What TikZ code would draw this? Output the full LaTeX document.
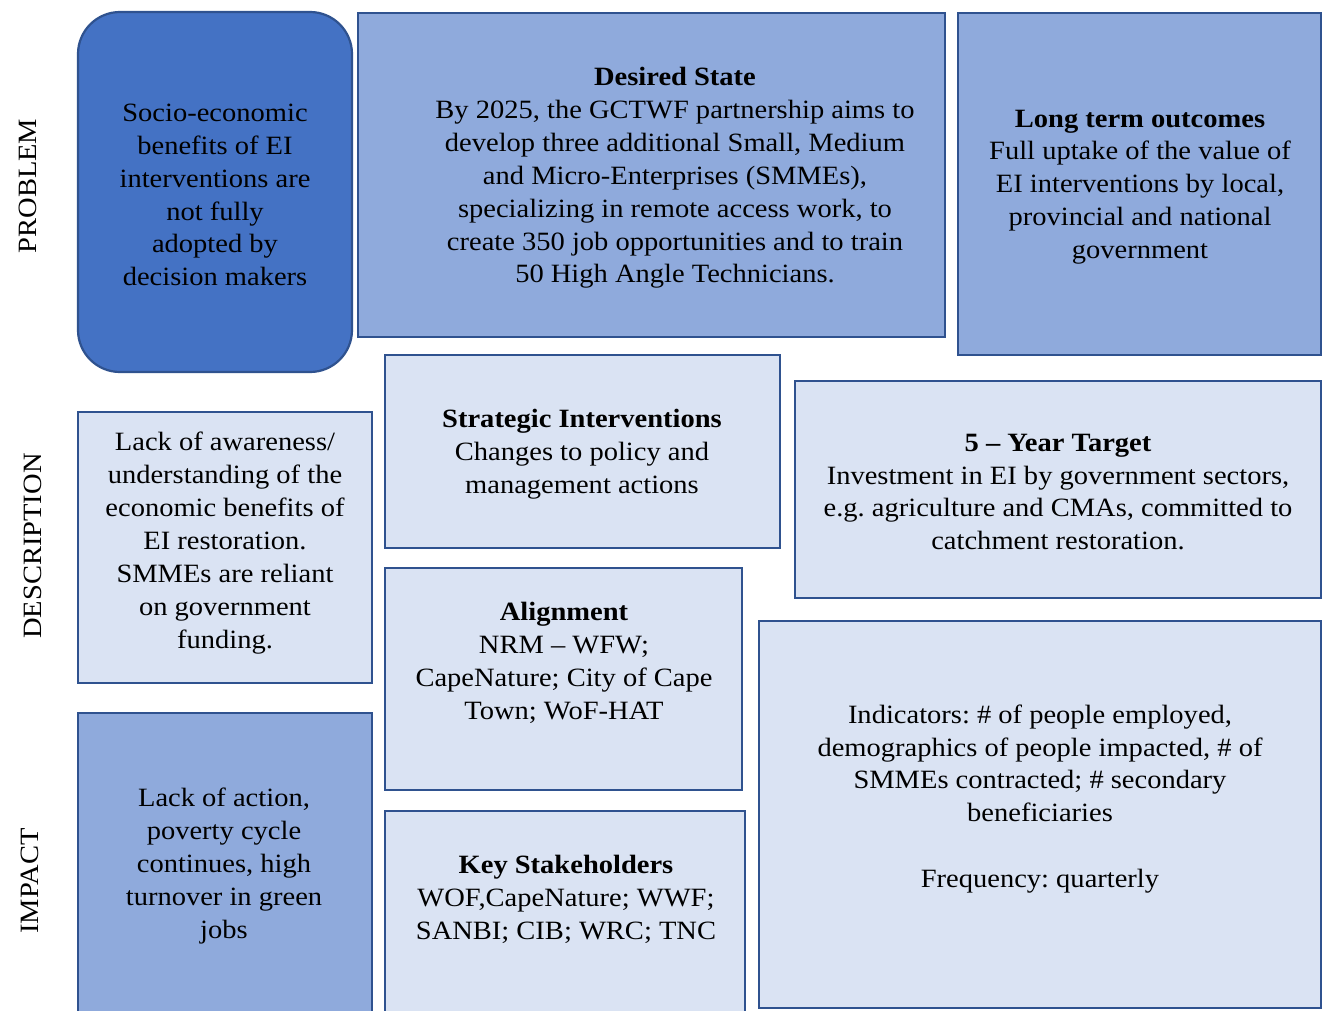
\documentclass[tikz,border=0pt]{standalone}
\usepackage{fontspec}
\setmainfont[FakeStretch=1.08]{Liberation Serif}
\frenchspacing
\definecolor{bdr}{HTML}{2F528F}
\definecolor{dark}{HTML}{4472C4}
\definecolor{mid}{HTML}{8FAADC}
\definecolor{light}{HTML}{DAE3F3}
\tikzset{
  box/.style={draw=bdr, line width=2.2bp, inner sep=0pt, outer sep=0pt},
  txt/.style={align=center, inner sep=0pt, font=\fontsize{26.5}{33}\selectfont},
  side/.style={rotate=90, inner sep=0pt, font=\fontsize{26.5}{30}\selectfont}
}
\newcommand{\boxat}[6]{% name, fill, x1, y1, x2, y2
  \node[box, fill=#2, minimum width={(#5-#3)*1bp}, minimum height={(#6-#4)*1bp}] (#1) at ({(#3+#5)/2},{(#4+#6)/2}) {};}
\begin{document}
\begin{tikzpicture}[x=1bp, y=-1bp]
\useasboundingbox (0,0) rectangle (1322,1010);
\clip (0,0) rectangle (1322,1010);
\fill[white] (0,0) rectangle (1322,1010);

\node[side] (lp) at (28,186) {PROBLEM};
\node[side] (ld) at (33,546) {DESCRIPTION};
\node[side] (li) at (30,881) {IMPACT};

\node[box, fill=dark, rounded corners=42bp, minimum width=274bp, minimum height=360bp] (socio) at (215,192) {};
\node[txt] (tsocio) at (215,195) {Socio-economic\\benefits of EI\\interventions are\\not fully\\adopted by\\decision makers};

\boxat{desired}{mid}{358}{13}{945}{337}
\node[txt] (tdesired) at (675,178) {\textbf{Desired State}\\By 2025, the GCTWF partnership aims to\\develop three additional Small, Medium\\and Micro-Enterprises (SMMEs),\\specializing in remote access work, to\\create 350 job opportunities and to train\\50 High Angle Technicians.};

\boxat{longterm}{mid}{958}{13}{1321}{355}
\node[txt] (tlongterm) at (1140,187) {\textbf{Long term outcomes}\\Full uptake of the value of\\EI interventions by local,\\provincial and national\\government};

\boxat{strategic}{light}{385}{355}{780}{548}
\node[txt] (tstrategic) at (582,454) {\textbf{Strategic Interventions}\\Changes to policy and\\management actions};

\boxat{target}{light}{795}{381}{1321}{598}
\node[txt] (ttarget) at (1058,492) {\textbf{5 – Year Target}\\Investment in EI by government sectors,\\e.g. agriculture and CMAs, committed to\\catchment restoration.};

\boxat{aware}{light}{78}{412}{372}{683}
\node[txt] (taware) at (225,543) {Lack of awareness/\\understanding of the\\economic benefits of\\EI restoration.\\SMMEs are reliant\\on government\\funding.};

\boxat{align}{light}{385}{568}{742}{790}
\node[txt] (talign) at (564,663) {\textbf{Alignment}\\NRM – WFW;\\CapeNature; City of Cape\\Town; WoF-HAT};

\boxat{action}{mid}{78}{713}{372}{1040}
\node[txt] (taction) at (224,866) {Lack of action,\\poverty cycle\\continues, high\\turnover in green\\jobs};

\boxat{stake}{light}{385}{811}{745}{1040}
\node[txt] (tstake) at (566,899) {\textbf{Key Stakeholders}\\WOF,CapeNature; WWF;\\SANBI; CIB; WRC; TNC};

\boxat{indic}{light}{759}{621}{1321}{1008}
\node[txt] (tindic) at (1040,799) {Indicators: \# of people employed,\\demographics of people impacted, \# of\\SMMEs contracted; \# secondary\\beneficiaries\\[33bp]Frequency: quarterly};
\end{tikzpicture}
\end{document}
